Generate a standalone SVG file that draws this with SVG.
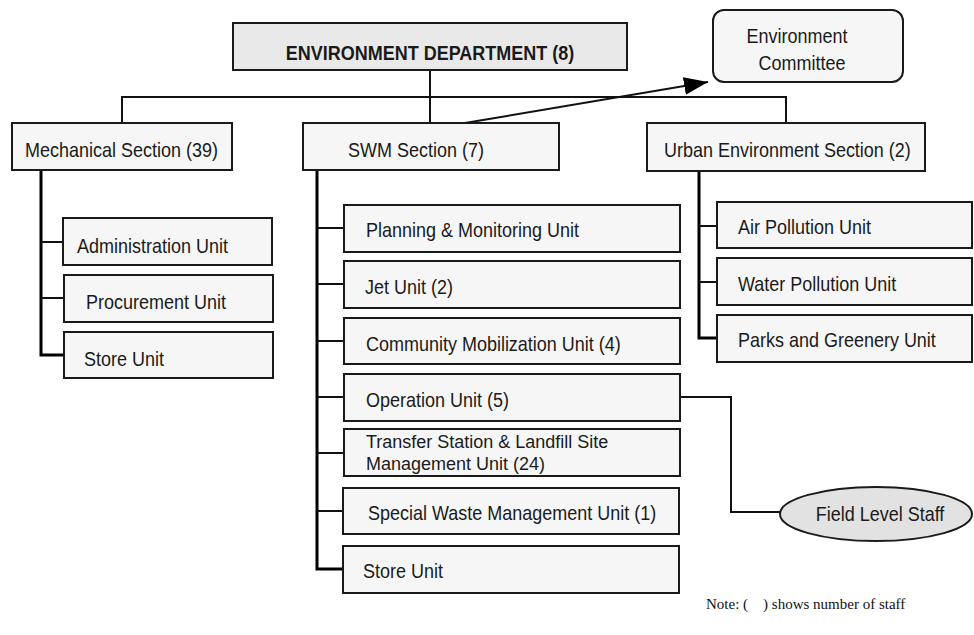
<svg xmlns="http://www.w3.org/2000/svg" width="974" height="635" viewBox="0 0 974 635">
  <style>
    .box { fill: #f6f6f6; stroke: #1a1a1a; stroke-width: 2; }
    .head { fill: #e9e9e9; stroke: #1a1a1a; stroke-width: 2; }
    .oval { fill: #e2e2e2; stroke: #1a1a1a; stroke-width: 2; }
    .t { font-family: "Liberation Sans", Arial, sans-serif; font-size: 18px; fill: #1a1a1a; }
    .tb { font-family: "Liberation Sans", Arial, sans-serif; font-size: 18px; font-weight: bold; fill: #1a1a1a; }
    .note { font-family: "Liberation Serif", "Times New Roman", serif; font-size: 15px; fill: #111; }
    .trunk { stroke: #000; stroke-width: 3; fill: none; }
    .link { stroke: #111; stroke-width: 2; fill: none; }
  </style>
  <defs>
    <marker id="arrow" markerUnits="userSpaceOnUse" markerWidth="26" markerHeight="20" refX="24" refY="9" orient="auto">
      <path d="M0,0 L24,9 L0,18 z" fill="#000"/>
    </marker>
  </defs>

  <rect width="974" height="635" fill="#ffffff"/>

  <!-- connectors -->
  <g id="connectors">
    <path class="link" d="M430,70 V123"/>
    <path class="link" d="M122,123 V97 H786 V123"/>
    <path class="link" d="M465,123 L708,82" marker-end="url(#arrow)"/>
    <!-- mechanical section -->
    <path class="trunk" d="M41,170 V355 H64"/>
    <path class="link" d="M41,242 H63 M41,298 H64"/>
    <!-- SWM section -->
    <path class="trunk" d="M317,170 V569 H343"/>
    <path class="link" d="M317,228 H344 M317,284 H344 M317,341 H344 M317,397 H344 M317,453 H344 M317,511 H343"/>
    <!-- urban environment section -->
    <path class="trunk" d="M699,171 V338 H717"/>
    <path class="link" d="M699,226 H717 M699,282 H717"/>
    <!-- operation unit to field staff -->
    <path class="link" d="M680,397 H731 V512 H780"/>
  </g>

  <g id="env-dept">
    <rect class="head" x="233" y="23" width="394" height="47"/>
    <text class="tb" text-anchor="middle" transform="translate(430,60) scale(1,1.15)">ENVIRONMENT DEPARTMENT (8)</text>
  </g>

  <g id="env-committee">
    <rect class="box" x="713" y="10" width="190" height="72" rx="11"/>
    <text class="t" text-anchor="middle" transform="translate(797,43) scale(1,1.15)">Environment</text>
    <text class="t" text-anchor="middle" transform="translate(802,70) scale(1,1.15)">Committee</text>
  </g>

  <g id="mechanical-section">
    <rect class="box" x="12" y="123" width="220" height="47"/>
    <text class="t" transform="translate(25,157) scale(1,1.15)">Mechanical Section (39)</text>
  </g>
  <g id="administration-unit">
    <rect class="box" x="63" y="218" width="209" height="47"/>
    <text class="t" transform="translate(77,253) scale(1,1.15)">Administration Unit</text>
  </g>
  <g id="procurement-unit">
    <rect class="box" x="64" y="275" width="209" height="47"/>
    <text class="t" transform="translate(86,309) scale(1,1.15)">Procurement Unit</text>
  </g>
  <g id="mech-store-unit">
    <rect class="box" x="64" y="332" width="209" height="46"/>
    <text class="t" transform="translate(84,366) scale(1,1.15)">Store Unit</text>
  </g>

  <g id="swm-section">
    <rect class="box" x="303" y="123" width="256" height="47"/>
    <text class="t" transform="translate(348,157) scale(1,1.15)">SWM Section (7)</text>
  </g>
  <g id="planning-unit">
    <rect class="box" x="344" y="205" width="336" height="47"/>
    <text class="t" transform="translate(366,237) scale(1,1.15)">Planning &amp; Monitoring Unit</text>
  </g>
  <g id="jet-unit">
    <rect class="box" x="344" y="261" width="336" height="47"/>
    <text class="t" transform="translate(365,294) scale(1,1.15)">Jet Unit (2)</text>
  </g>
  <g id="community-unit">
    <rect class="box" x="344" y="318" width="336" height="46"/>
    <text class="t" transform="translate(366,351) scale(1,1.15)">Community Mobilization Unit (4)</text>
  </g>
  <g id="operation-unit">
    <rect class="box" x="344" y="374" width="336" height="47"/>
    <text class="t" transform="translate(366,407) scale(1,1.15)">Operation Unit (5)</text>
  </g>
  <g id="transfer-unit">
    <rect class="box" x="344" y="429" width="336" height="47"/>
    <text class="t" transform="translate(366,448) scale(1,1.05)">Transfer Station &amp; Landfill Site</text>
    <text class="t" transform="translate(366,470) scale(1,1.05)">Management Unit (24)</text>
  </g>
  <g id="special-waste-unit">
    <rect class="box" x="343" y="488" width="336" height="46"/>
    <text class="t" transform="translate(368,520) scale(1,1.15)">Special Waste Management Unit (1)</text>
  </g>
  <g id="swm-store-unit">
    <rect class="box" x="343" y="546" width="336" height="47"/>
    <text class="t" transform="translate(363,578) scale(1,1.15)">Store Unit</text>
  </g>

  <g id="urban-section">
    <rect class="box" x="647" y="123" width="278" height="48"/>
    <text class="t" transform="translate(664,157) scale(1,1.15)">Urban Environment Section (2)</text>
  </g>
  <g id="air-unit">
    <rect class="box" x="717" y="202" width="255" height="46"/>
    <text class="t" transform="translate(738,234) scale(1,1.15)">Air Pollution Unit</text>
  </g>
  <g id="water-unit">
    <rect class="box" x="717" y="258" width="255" height="47"/>
    <text class="t" transform="translate(738,291) scale(1,1.15)">Water Pollution Unit</text>
  </g>
  <g id="parks-unit">
    <rect class="box" x="717" y="315" width="255" height="47"/>
    <text class="t" transform="translate(738,347) scale(1,1.15)">Parks and Greenery Unit</text>
  </g>

  <g id="field-staff">
    <ellipse class="oval" cx="876" cy="514" rx="96" ry="27"/>
    <text class="t" text-anchor="middle" transform="translate(880,521) scale(1,1.15)">Field Level Staff</text>
  </g>

  <g id="note">
    <text class="note" x="706" y="609" xml:space="preserve">Note: (    ) shows number of staff</text>
  </g>
</svg>
